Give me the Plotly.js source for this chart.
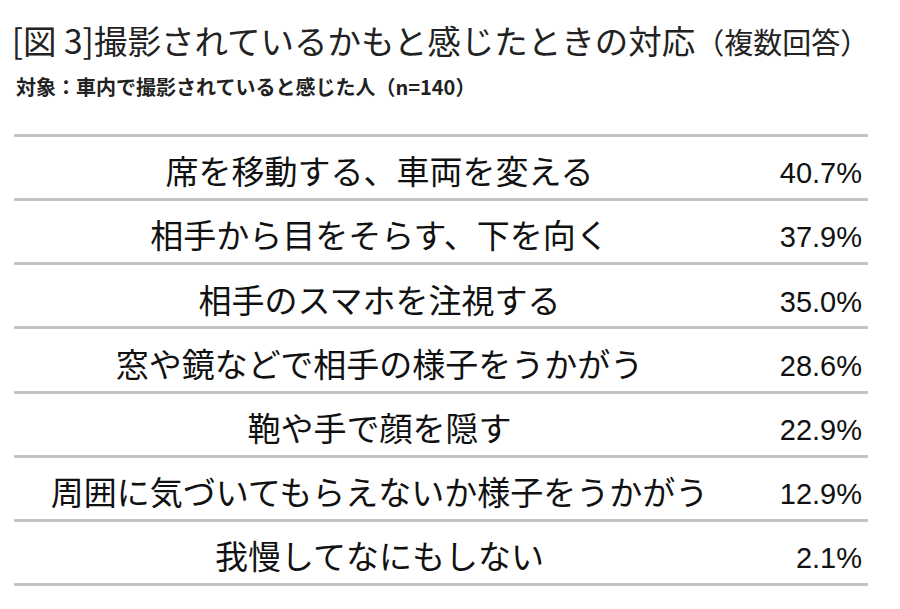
<!DOCTYPE html>
<html>
<head>
<meta charset="utf-8">
<script src="https://cdn.plot.ly/plotly-3.0.1.min.js"></script>
<style>
  body { margin: 0; background: #fff; }
  #chart { width: 900px; height: 609px; }
</style>
</head>
<body>
<div id="chart"></div>
<script>
const responses = [
  "席を移動する、車両を変える",
  "相手から目をそらす、下を向く",
  "相手のスマホを注視する",
  "窓や鏡などで相手の様子をうかがう",
  "鞄や手で顔を隠す",
  "周囲に気づいてもらえないか様子をうかがう",
  "我慢してなにもしない"
];
const shares = [40.7, 37.9, 35.0, 28.6, 22.9, 12.9, 2.1];

const titleText = "[図 3]撮影されているかもと感じたときの対応";
const titleNote = "（複数回答）";
const subtitleText = "対象：車内で撮影されていると感じた人（n=140）";

const jp = '"Noto Sans CJK JP", "Noto Sans", sans-serif';
const narrow = '"Liberation Sans Narrow", "Arial Narrow", "Liberation Sans", sans-serif';

// row separators come from the category grid of this (invisible) trace
const rowTrace = {
  type: 'scatter',
  mode: 'none',
  x: responses.map(() => 0.5),
  y: responses,
  hoverinfo: 'skip'
};

// label column, centred
const labelTrace = {
  type: 'scatter',
  mode: 'text',
  x: responses.map(() => 0.428),
  y: responses,
  yaxis: 'y2',
  text: responses,
  textposition: 'middle center',
  textfont: { family: jp, size: 33, color: '#111' },
  hoverinfo: 'skip',
  cliponaxis: false
};

// value column, right aligned
const valueTrace = {
  type: 'scatter',
  mode: 'text',
  x: responses.map(() => 0.993),
  y: responses,
  yaxis: 'y2',
  text: shares.map(v => v.toFixed(1) + '%'),
  textposition: 'middle left',
  textfont: { family: narrow, size: 29, color: '#111' },
  hoverinfo: 'skip',
  cliponaxis: false
};

const order = responses.slice().reverse();
const shift = 0.13; // text sits a little below row centre

const layout = {
  width: 900,
  height: 609,
  margin: { l: 14, r: 32, t: 132, b: 21 },
  paper_bgcolor: '#fff',
  plot_bgcolor: '#fff',
  showlegend: false,
  title: {
    text: titleText + '<span style="font-size:29px">' + titleNote + '</span>',
    font: { family: jp, size: 33.5, color: '#222' },
    xref: 'container', x: 0.013, xanchor: 'left',
    yref: 'container', y: 0.93, yanchor: 'middle'
  },
  annotations: [{
    text: '<b>' + subtitleText + '</b>',
    xref: 'paper', x: 0, xanchor: 'left',
    yref: 'paper', y: 1.10, yanchor: 'middle',
    showarrow: false,
    font: { family: jp, size: 20, color: '#222' }
  }],
  xaxis: {
    range: [0, 1],
    visible: false,
    fixedrange: true
  },
  yaxis: {
    type: 'category',
    categoryorder: 'array',
    categoryarray: order,
    range: [-0.56, 6.56],
    tickson: 'boundaries',
    showgrid: true,
    gridcolor: '#c4c4c4',
    gridwidth: 3,
    ticks: '',
    showticklabels: false,
    showline: false,
    zeroline: false,
    fixedrange: true
  },
  yaxis2: {
    type: 'category',
    overlaying: 'y',
    categoryorder: 'array',
    categoryarray: order,
    range: [-0.56 + shift, 6.56 + shift],
    visible: false,
    showgrid: false,
    fixedrange: true
  }
};

Plotly.newPlot('chart', [rowTrace, labelTrace, valueTrace], layout, { staticPlot: true, displayModeBar: false });
</script>
</body>
</html>
